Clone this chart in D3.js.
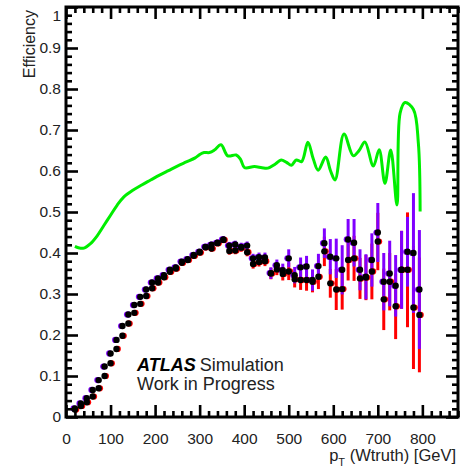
<!DOCTYPE html>
<html>
<head>
<meta charset="utf-8">
<script src="https://cdn.jsdelivr.net/npm/d3@7"></script>
<style>
html,body{margin:0;padding:0;background:#fff;}
svg text{font-family:"Liberation Sans",Arial,Helvetica,sans-serif;}
</style>
</head>
<body>
<svg id="chart" width="469" height="471"></svg>
<script>
// ---- data ----
const binCenters = d3.range(1, 60).map(k => (k + 0.5) * 800 / 60);
const effBlue = [.021,.033,.046,.066,.090,.123,.155,.188,.222,.250,.273,.293,.311,.328,.338,.346,.359,.365,.379,.385,.395,.403,.415,.420,.425,.433,.418,.421,.415,.418,.387,.390,.389,.351,.370,.358,.387,.346,.365,.367,.334,.368,.424,.391,.387,.359,.433,.425,.359,.342,.383,.450,.330,.350,.320,.359,.403,.400,.311];
const errBlue = [.003,.004,.004,.005,.005,.006,.006,.006,.007,.007,.007,.007,.007,.007,.007,.007,.007,.007,.007,.007,.007,.007,.008,.008,.008,.008,.009,.009,.010,.010,.011,.011,.012,.014,.014,.016,.022,.020,.024,.026,.026,.030,.036,.043,.048,.060,.050,.058,.050,.055,.065,.072,.070,.080,.075,.095,.085,.146,.145];
const effRed = [.018,.027,.036,.050,.070,.100,.131,.166,.198,.228,.254,.276,.295,.314,.328,.341,.354,.362,.376,.383,.393,.401,.414,.411,.424,.432,.405,.406,.413,.402,.373,.378,.380,.350,.360,.349,.355,.336,.334,.334,.330,.342,.404,.326,.311,.312,.383,.387,.338,.340,.355,.428,.287,.330,.270,.359,.359,.267,.249];
const errRed = [.003,.004,.004,.005,.005,.006,.006,.006,.007,.007,.007,.007,.007,.007,.007,.007,.007,.007,.007,.007,.007,.007,.008,.008,.008,.008,.009,.009,.010,.010,.011,.011,.012,.014,.014,.016,.021,.020,.024,.026,.026,.030,.036,.035,.050,.050,.050,.055,.050,.055,.068,.070,.075,.070,.080,.095,.140,.150,.140];
const greenPt = [20,30,40,55,70,85,100,115,130,150,170,190,210,230,250,270,290,300,310,322,333,348,363,382,392,401,423,440,453,470,483,495,506,517,529,543,555,566,583,594,604,624,645,658,671,690,703,716,729,743,750,761,780,791,795];
const greenEff = [.416,.412,.412,.423,.442,.467,.492,.517,.537,.553,.566,.578,.590,.601,.612,.622,.632,.640,.645,.645,.651,.664,.637,.639,.628,.608,.611,.608,.607,.617,.627,.621,.614,.627,.623,.670,.630,.602,.634,.600,.578,.690,.637,.650,.671,.612,.652,.570,.651,.517,.741,.767,.750,.668,.501];
const xMajor = [0,100,200,300,400,500,600,700,800];
const yMajor = [0,0.1,0.2,0.3,0.4,0.5,0.6,0.7,0.8,0.9,1];
const yLabels = ["0","0.1","0.2","0.3","0.4","0.5","0.6","0.7","0.8","0.9","1"];

// ---- layout ----
const svg = d3.select("#chart");
const x = d3.scaleLinear().domain([0, 880]).range([66, 458]);
const y = d3.scaleLinear().domain([0, 1]).range([417, 7]);
const xMinor = d3.range(0, 881, 20).filter(v => v % 100 !== 0);
const yMinor = d3.range(0, 51).map(i => i / 50).filter((v, i) => i % 5 !== 0);
const purple = "#8000ff", red = "#ff0000";

// green curve
svg.append("path")
  .datum(greenPt.map((p, i) => [p, greenEff[i]]))
  .attr("fill", "none").attr("stroke", "#00ee00").attr("stroke-width", 3)
  .attr("stroke-linejoin", "round")
  .attr("d", d3.line().x(d => x(d[0])).y(d => y(d[1])).curve(d3.curveCatmullRom.alpha(0.5)));

const pts = binCenters.map((c, i) => ({c, b: effBlue[i], eb: errBlue[i], r: effRed[i], er: errRed[i]}));
// red error bars
svg.append("g").selectAll("line").data(pts).join("line")
  .attr("x1", d => x(d.c)).attr("x2", d => x(d.c))
  .attr("y1", d => y(d.r - d.er)).attr("y2", d => y(d.r + d.er))
  .attr("stroke", red).attr("stroke-width", 3);
// purple error bars
svg.append("g").selectAll("line").data(pts).join("line")
  .attr("x1", d => x(d.c)).attr("x2", d => x(d.c))
  .attr("y1", d => y(d.b - d.eb)).attr("y2", d => y(d.b + d.eb))
  .attr("stroke", purple).attr("stroke-width", 3);
// coloured marker halos
svg.append("g").selectAll("circle").data(pts).join("circle")
  .attr("cx", d => x(d.c) + 1.3).attr("cy", d => y(d.r)).attr("r", 3.1).attr("fill", red);
svg.append("g").selectAll("circle").data(pts).join("circle")
  .attr("cx", d => x(d.c) - 1.3).attr("cy", d => y(d.b)).attr("r", 3.1).attr("fill", purple);
// markers
svg.append("g").selectAll("circle").data(pts).join("circle")
  .attr("cx", d => x(d.c)).attr("cy", d => y(d.r)).attr("r", 3.2).attr("fill", "#000");
svg.append("g").selectAll("circle").data(pts).join("circle")
  .attr("cx", d => x(d.c)).attr("cy", d => y(d.b)).attr("r", 3.2).attr("fill", "#000");

// axes (ROOT style ticks inside the frame)
function styleAxis(g) {
  g.select(".domain").remove();
  g.selectAll(".tick line").attr("stroke", "#000").attr("stroke-width", 2.6);
  g.selectAll(".tick text").remove();
}
svg.append("g").attr("transform", "translate(0,417)")
  .call(d3.axisTop(x).tickValues(xMajor).tickSize(12)).call(styleAxis);
svg.append("g").attr("transform", "translate(0,417)")
  .call(d3.axisTop(x).tickValues(xMinor).tickSize(6)).call(styleAxis);
svg.append("g").attr("transform", "translate(0,7)")
  .call(d3.axisBottom(x).tickValues(xMajor).tickSize(12)).call(styleAxis);
svg.append("g").attr("transform", "translate(0,7)")
  .call(d3.axisBottom(x).tickValues(xMinor).tickSize(6)).call(styleAxis);
svg.append("g").attr("transform", "translate(66,0)")
  .call(d3.axisRight(y).tickValues(yMajor).tickSize(12)).call(styleAxis);
svg.append("g").attr("transform", "translate(66,0)")
  .call(d3.axisRight(y).tickValues(yMinor).tickSize(6)).call(styleAxis);
svg.append("g").attr("transform", "translate(458,0)")
  .call(d3.axisLeft(y).tickValues(yMajor).tickSize(12)).call(styleAxis);
svg.append("g").attr("transform", "translate(458,0)")
  .call(d3.axisLeft(y).tickValues(yMinor).tickSize(6)).call(styleAxis);

// frame
svg.append("rect").attr("x", 66).attr("y", 7).attr("width", 392).attr("height", 410)
  .attr("fill", "none").attr("stroke", "#000").attr("stroke-width", 3);

// tick labels
const xl = svg.append("g").attr("transform", "translate(0,417)")
  .call(d3.axisBottom(x).tickValues(xMajor).tickSize(0).tickPadding(16));
xl.select(".domain").remove();
xl.selectAll("text").attr("font-size", 15.5).attr("fill", "#222")
  .attr("font-family", "Liberation Sans, Arial, sans-serif");
const yl = svg.append("g").attr("transform", "translate(66,0)")
  .call(d3.axisLeft(y).tickValues(yMajor).tickSize(0).tickPadding(5)
    .tickFormat((d, i) => yLabels[i]));
yl.select(".domain").remove();
yl.selectAll("text").attr("font-size", 15.5).attr("fill", "#222")
  .attr("font-family", "Liberation Sans, Arial, sans-serif");
yl.selectAll("text").filter(d => d === 1).attr("dy", "0.85em");

// axis titles
svg.append("text").attr("transform", "translate(35,10) rotate(-90)")
  .attr("text-anchor", "end").attr("font-size", 16).attr("fill", "#222").text("Efficiency");
const xt = svg.append("text").attr("x", 456).attr("y", 461).attr("text-anchor", "end")
  .attr("font-size", 16.5).attr("fill", "#222");
xt.append("tspan").text("p");
xt.append("tspan").attr("font-size", 11).attr("dy", 5).text("T");
xt.append("tspan").attr("dy", -5).text(" (Wtruth) [GeV]");

// ATLAS label
const at = svg.append("text").attr("x", 137).attr("y", 371).attr("font-size", 18).attr("fill", "#000");
at.append("tspan").attr("font-weight", "bold").attr("font-style", "italic").text("ATLAS");
at.append("tspan").attr("dx", 4).attr("fill", "#222").text("Simulation");
svg.append("text").attr("x", 137).attr("y", 390).attr("font-size", 18).attr("fill", "#222").text("Work in Progress");
</script>
</body>
</html>
